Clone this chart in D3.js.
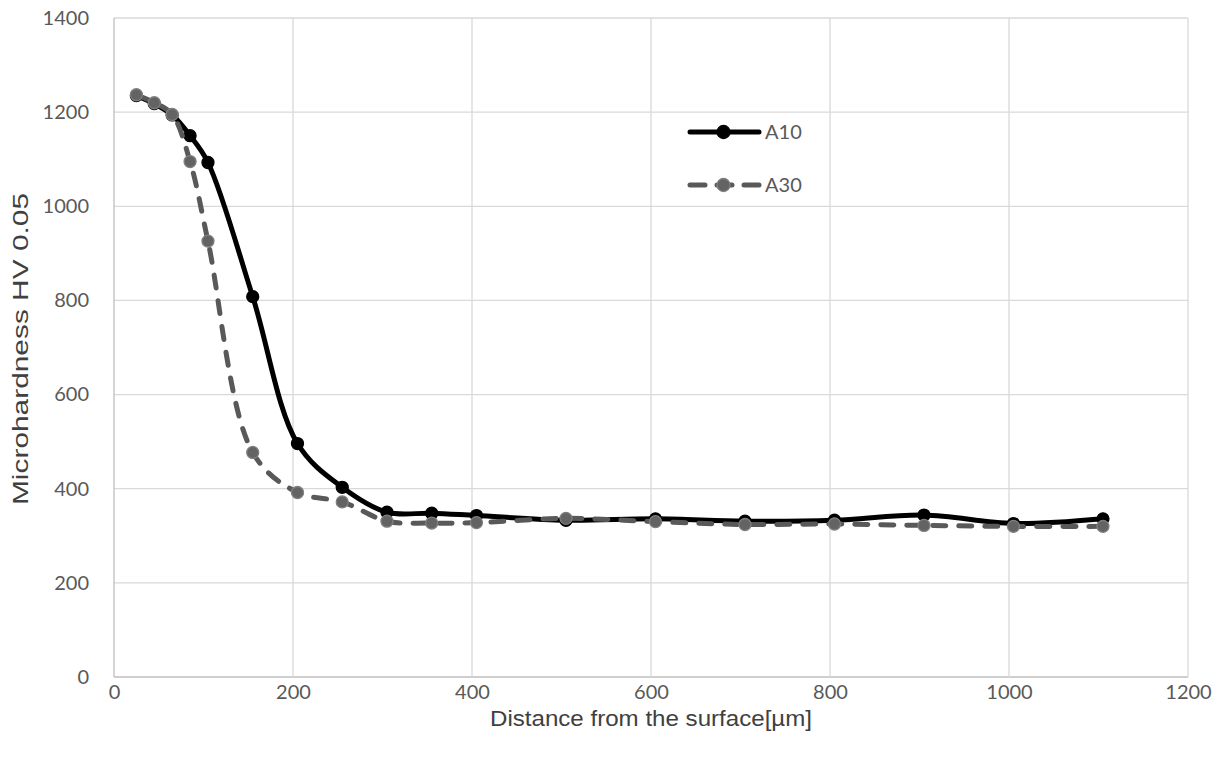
<!DOCTYPE html>
<html>
<head>
<meta charset="utf-8">
<script src="https://cdn.jsdelivr.net/npm/d3@7"></script>
<style>
  body { margin: 0; background: #fff; }
  .tick text { font-family: "Lato", "Liberation Sans", sans-serif; font-size: 20px; fill: #595959; }
  .title { font-family: "Liberation Sans", sans-serif; font-size: 22px; fill: #404040; }
  .legend text { font-family: "Lato", "Liberation Sans", sans-serif; font-size: 20px; fill: #595959; }
</style>
</head>
<body>
<svg id="chart" width="1225" height="760"></svg>
<script>
// distances in um
var depthA10 = [25, 45, 65, 85, 105, 155, 205, 255, 305, 355, 405, 505, 605, 705, 805, 905, 1005, 1105];
var hardA10  = [1235, 1218, 1194, 1150, 1093, 808, 496, 403, 350, 348, 343, 333, 336, 331, 333, 344, 326, 336];

var depthA30 = [25, 45, 65, 85, 105, 155, 205, 255, 305, 355, 405, 505, 605, 705, 805, 905, 1005, 1105];
var hardA30  = [1237, 1220, 1195, 1095, 926, 477, 392, 372, 331, 327, 328, 337, 330, 324, 325, 322, 320, 320];

var xTicks = [0, 200, 400, 600, 800, 1000, 1200];
var yTicks = [0, 200, 400, 600, 800, 1000, 1200, 1400];

var svg = d3.select("#chart");
var margin = {left: 114, right: 37, top: 18, bottom: 83};
var width = 1225 - margin.left - margin.right,
    height = 760 - margin.top - margin.bottom;

var x = d3.scaleLinear().domain([0, 1200]).range([0, width]);
var y = d3.scaleLinear().domain([0, 1400]).range([height, 0]);

var g = svg.append("g").attr("transform", "translate(" + margin.left + "," + margin.top + ")");

// gridlines
g.append("g")
    .selectAll("line.h")
    .data(yTicks)
    .enter().append("line")
    .attr("x1", 0).attr("x2", width)
    .attr("y1", function(d) { return y(d); })
    .attr("y2", function(d) { return y(d); })
    .attr("stroke", function(d) { return d === 0 ? "#bfbfbf" : "#d9d9d9"; })
    .attr("stroke-width", 1.3);

g.append("g")
    .selectAll("line.v")
    .data(xTicks)
    .enter().append("line")
    .attr("y1", 0).attr("y2", height)
    .attr("x1", function(d) { return x(d); })
    .attr("x2", function(d) { return x(d); })
    .attr("stroke", function(d) { return d === 0 ? "#bfbfbf" : "#d9d9d9"; })
    .attr("stroke-width", 1.3);

// axes (labels only)
var xAxis = g.append("g")
    .attr("transform", "translate(0," + height + ")")
    .call(d3.axisBottom(x).tickValues(xTicks).tickFormat(d3.format("d")).tickSize(0).tickPadding(8));
xAxis.select(".domain").remove();

var yAxis = g.append("g")
    .call(d3.axisLeft(y).tickValues(yTicks).tickFormat(d3.format("d")).tickSize(0).tickPadding(25));
yAxis.select(".domain").remove();

// axis titles
svg.append("text")
    .attr("class", "title")
    .attr("x", margin.left + width / 2)
    .attr("y", 726)
    .attr("text-anchor", "middle")
    .attr("textLength", 322)
    .attr("lengthAdjust", "spacingAndGlyphs")
    .text("Distance from the surface[µm]");

svg.append("text")
    .attr("class", "title")
    .attr("transform", "translate(28," + 349 + ") rotate(-90)")
    .attr("text-anchor", "middle")
    .attr("textLength", 312)
    .attr("lengthAdjust", "spacingAndGlyphs")
    .text("Microhardness HV 0.05");

var line = d3.line()
    .x(function(d) { return x(d[0]); })
    .y(function(d) { return y(d[1]); })
    .curve(d3.curveCatmullRom.alpha(0.5));

var series = [
    {name: "A10", pts: d3.zip(depthA10, hardA10), stroke: "#000000", dash: null, fill: "#000000", mstroke: "#000000"},
    {name: "A30", pts: d3.zip(depthA30, hardA30), stroke: "#595959", dash: "13,13", fill: "#636363", mstroke: "#7f7f7f"}
];

series.forEach(function(s) {
    g.append("path")
        .datum(s.pts)
        .attr("d", line)
        .attr("fill", "none")
        .attr("stroke", s.stroke)
        .attr("stroke-width", 5)
        .attr("stroke-linecap", "round")
        .attr("stroke-dasharray", s.dash);

    g.selectAll("circle." + s.name)
        .data(s.pts)
        .enter().append("circle")
        .attr("cx", function(d) { return x(d[0]); })
        .attr("cy", function(d) { return y(d[1]); })
        .attr("r", 6)
        .attr("fill", s.fill)
        .attr("stroke", s.mstroke)
        .attr("stroke-width", 1.3);
});

// legend
var legend = svg.append("g").attr("class", "legend")
    .selectAll("g")
    .data(series)
    .enter().append("g")
    .attr("transform", function(d, i) { return "translate(688," + (132 + i * 53) + ")"; });

legend.append("line")
    .attr("x1", 2).attr("x2", 71)
    .attr("y1", 0).attr("y2", 0)
    .attr("stroke", function(d) { return d.stroke; })
    .attr("stroke-width", 5)
    .attr("stroke-linecap", "round")
    .attr("stroke-dasharray", function(d) { return d.dash ? "15,12" : null; });

legend.append("circle")
    .attr("cx", 35.5).attr("cy", 0).attr("r", 6.5)
    .attr("fill", function(d) { return d.fill; })
    .attr("stroke", function(d) { return d.mstroke; })
    .attr("stroke-width", 1.3);

legend.append("text")
    .attr("x", 77).attr("y", 7)
    .text(function(d) { return d.name; });
</script>
</body>
</html>
